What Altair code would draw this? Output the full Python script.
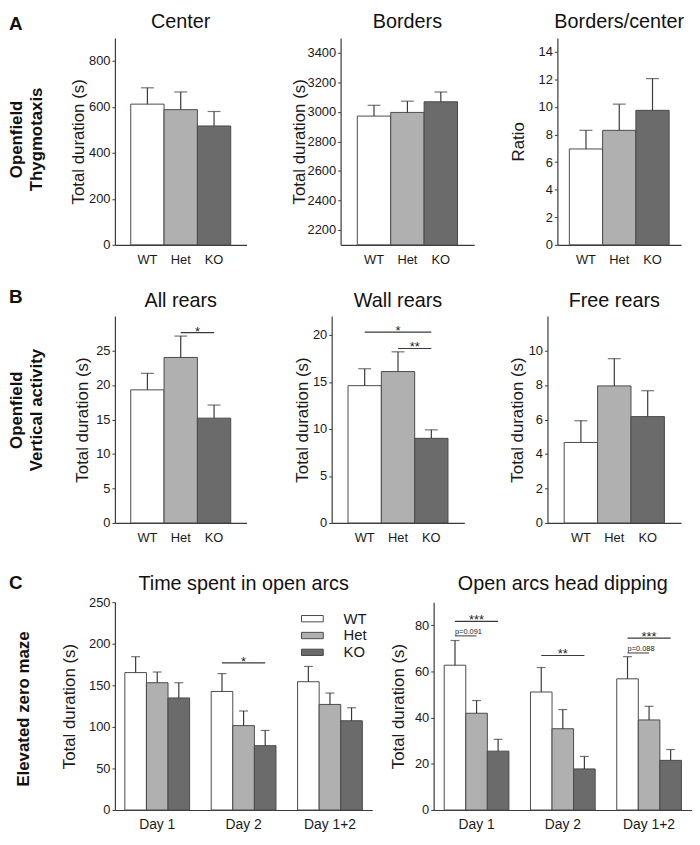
import altair as alt
import pandas as pd

FONT = "Liberation Sans"
INK = "#1a1a1a"
LINE = "#3a3a3a"
BAR_EDGE = "#4a4a4a"

genotypes = ["WT", "Het", "KO"]
fills = ["#ffffff", "#b0b0b0", "#6b6b6b"]

center_mean = [612, 588, 517]
center_sem = [71, 77, 63]
borders_mean = [2971, 2996, 3068]
borders_sem = [73, 76, 66]
ratio_mean = [6.95, 8.3, 9.75]
ratio_sem = [1.35, 1.9, 2.3]
allr_mean = [19.3, 24.0, 15.2]
allr_sem = [2.4, 3.1, 1.9]
wall_mean = [14.6, 16.1, 9.0]
wall_sem = [1.8, 2.1, 0.9]
free_mean = [4.67, 7.95, 6.17]
free_sem = [1.26, 1.58, 1.5]

days = ["Day 1", "Day 2", "Day 1+2"]
open_mean = [[165.3, 153.1, 134.8], [142.6, 101.5, 77.4], [154.3, 127.0, 107.4]]
open_sem = [[19.1, 12.9, 18.3], [21.5, 17.6, 18.3], [18.4, 13.7, 15.6]]
dip_mean = [[62.7, 41.9, 25.5], [51.1, 35.2, 17.8], [56.8, 39.0, 21.5]]
dip_sem = [[10.7, 5.5, 5.1], [10.6, 8.3, 5.4], [9.6, 5.9, 4.7]]

allr_sig = [{"from": "Het", "to": "KO", "y": 27.6, "label": "*", "mid": "KO", "bp": 0.0}]
wall_sig = [{"from": "WT", "to": "KO", "y": 20.3, "label": "*", "mid": "Het", "bp": 0.5},
            {"from": "Het", "to": "KO", "y": 18.55, "label": "**", "mid": "KO", "bp": 0.0}]
open_sig = [{"from": "Day 2|WT", "to": "Day 2|KO", "y": 177, "label": "*", "mid": "Day 2|Het", "bp": 0.5}]
dip_sig = [{"from": "Day 1|WT", "to": "Day 1|KO", "y": 81.7, "label": "***", "mid": "Day 1|Het", "bp": 0.5},
           {"from": "Day 2|WT", "to": "Day 2|KO", "y": 66.9, "label": "**", "mid": "Day 2|Het", "bp": 0.5},
           {"from": "Day 1+2|WT", "to": "Day 1+2|KO", "y": 74.4, "label": "***", "mid": "Day 1+2|Het", "bp": 0.5}]
dip_p = [{"from": "Day 1|WT", "to": "Day 1|Het", "y": 75.4, "label": "p=0.091"},
         {"from": "Day 1+2|WT", "to": "Day 1+2|Het", "y": 68.0, "label": "p=0.088"}]

fill_scale = alt.Scale(domain=genotypes, range=fills)

hA, hB, hC = 209, 209, 210
GAP_AB = 22
GAP_BC = 30


def geno_df(mean, sem):
    return pd.DataFrame({"x": genotypes, "g": genotypes, "m": mean,
                         "top": [a + b for a, b in zip(mean, sem)]})


def grouped_df(mean, sem):
    rows = []
    for i, d in enumerate(days):
        for j, g in enumerate(genotypes):
            rows.append({"x": f"{d}|{g}", "g": g, "m": mean[i][j], "top": mean[i][j] + sem[i][j]})
    return pd.DataFrame(rows)


slots = []
for i, d in enumerate(days):
    for g in genotypes:
        slots.append(f"{d}|{g}")
    if i < len(days) - 1:
        slots.append(f"gap{i}")


def annot(text, x, y, size, weight="bold", angle=0, align="left", baseline="alphabetic"):
    kw = dict(font=FONT, fontSize=size, fontWeight=weight, color="#111111", align=align,
              baseline=baseline, lineBreak="\n", lineHeight=20)
    if angle:
        kw["angle"] = angle
    return alt.Chart(pd.DataFrame({"t": [text]})).mark_text(**kw).encode(
        x=alt.value(x), y=alt.value(y), text="t:N")


def panel(df, xdomain, pad, xaxis, ydom, yvals, ytitle, tx, width, height, title, ty,
          cap, legend=None, sigs=None, pvals=None, extras=()):
    xs = alt.Scale(domain=xdomain, paddingInner=0, paddingOuter=pad)
    ys = alt.Scale(domain=ydom, nice=False, zero=False)
    yaxis = alt.Axis(values=yvals, title=ytitle, format="d", titleX=tx, titleY=height / 2,
                     titleBaseline="middle", titleAlign="center", titleAngle=270)

    def X(f, **kw):
        return alt.X(f, type="nominal", scale=xs, axis=xaxis, **kw)

    def Y(f):
        return alt.Y(f, type="quantitative", scale=ys, axis=yaxis)

    base = alt.Chart(df)
    bars = base.mark_bar(stroke=BAR_EDGE, strokeWidth=1).encode(
        x=X("x"), y=Y("m"), y2=alt.datum(ydom[0]),
        fill=alt.Fill("g:N", scale=fill_scale, legend=legend))
    err = base.mark_rule(color=LINE, strokeWidth=1.2).encode(x=X("x"), y=Y("m"), y2="top:Q")
    caps = base.mark_tick(color=LINE, thickness=1.2, size=cap).encode(x=X("x"), y=Y("top"))
    layers = [bars, err, caps]
    if sigs:
        sdf = pd.DataFrame(sigs)
        layers.append(alt.Chart(sdf).mark_rule(color=LINE, strokeWidth=1.2).encode(
            x=X("from"), x2="to:N", y=Y("y")))
        for bp in sorted(set(sdf["bp"])):
            sub = sdf[sdf["bp"] == bp]
            layers.append(alt.Chart(sub).mark_text(font=FONT, fontSize=13, color=INK,
                                                   baseline="alphabetic", dy=3).encode(
                x=X("mid", bandPosition=float(bp)), y=Y("y"), text="label:N"))
    if pvals:
        pdf = pd.DataFrame(pvals)
        layers.append(alt.Chart(pdf).mark_rule(color=LINE, strokeWidth=1).encode(
            x=X("from"), x2="to:N", y=Y("y")))
        layers.append(alt.Chart(pdf).mark_text(font=FONT, fontSize=7.5, color=INK, align="left",
                                               baseline="alphabetic", dy=-1.5).encode(
            x=X("from"), y=Y("y"), text="label:N"))
    layers.append(annot(title, width / 2, ty, 20, weight="normal", align="center"))
    layers.extend(extras)
    return alt.layer(*layers).properties(width=width, height=height)


def spacer(w, h):
    return alt.Chart(pd.DataFrame({"a": [0]})).mark_point(opacity=0, size=1).encode(
        x=alt.value(0), y=alt.value(0)).properties(width=w, height=h)


gaxis = alt.Axis(title=None, ticks=False, labelFontSize=13, labelPadding=9, labelAngle=0)
daxis = alt.Axis(title=None, ticks=False, labelFontSize=14, labelPadding=8, labelAngle=0,
                 labelExpr="indexof(datum.value, '|Het') > 0 ? split(datum.value, '|')[0] : ''")

TD = "Total duration (s)"

center = panel(geno_df(center_mean, center_sem), genotypes, 0.475, gaxis, [0, 900],
               [0, 200, 400, 600, 800], TD, -37, 133, hA, "Center", -10, 13,
               extras=[annot("A", -107, -8, 19),
                       annot("Openfield\nThygmotaxis", -99, hA / 2 - 2, 17, angle=270,
                             align="center", baseline="middle")])
borders = panel(geno_df(borders_mean, borders_sem), genotypes, 0.5, gaxis, [2100, 3500],
                list(range(2200, 3401, 200)), TD, -41, 135, hA, "Borders", -10, 13)
ratio = panel(geno_df(ratio_mean, ratio_sem), genotypes, 0.36, gaxis, [0, 15],
              list(range(0, 15, 2)), "Ratio", -39, 125, hA, "Borders/center", -10, 13)

allr = panel(geno_df(allr_mean, allr_sem), genotypes, 0.475, gaxis, [0, 30],
             list(range(0, 26, 5)), TD, -33, 133, hB, "All rears", -9, 13,
             sigs=allr_sig,
             extras=[annot("B", -107, -13, 19),
                     annot("Openfield\nVertical activity", -99, 95, 17, angle=270,
                           align="center", baseline="middle")])
wall = panel(geno_df(wall_mean, wall_sem), genotypes, 0.49, gaxis, [0, 22],
             list(range(0, 21, 5)), TD, -29, 134, hB, "Wall rears", -9, 13,
             sigs=wall_sig)
free = panel(geno_df(free_mean, free_sem), genotypes, 0.5, gaxis, [0, 12],
             list(range(0, 11, 2)), TD, -30, 135, hB, "Free rears", -9, 13)

legend = alt.Legend(orient="none", legendX=191, legendY=8.2, title=None,
                    symbolType="M-1.375,-0.4L1.375,-0.4L1.375,0.4L-1.375,0.4Z",
                    symbolSize=256, symbolStrokeColor="#4a4a4a", symbolStrokeWidth=1,
                    symbolOpacity=1, labelFont=FONT, labelFontSize=15, labelColor=INK,
                    labelOffset=23, rowPadding=-0.6, padding=0, offset=0)

opent = panel(grouped_df(open_mean, open_sem), slots, 0.46, daxis, [0, 250],
              list(range(0, 251, 50)), TD, -46, 260, hC,
              "Time spent in open arcs", -12, 9, legend=legend, sigs=open_sig,
              extras=[annot("C", -107, -13, 19),
                      annot("Elevated zero maze", -92, 108, 17, angle=270,
                            align="center", baseline="middle")])
dip = panel(grouped_df(dip_mean, dip_sem), slots, 0.49, daxis, [0, 90],
            list(range(0, 81, 20)), TD, -35, 261, hC,
            "Open arcs head dipping", -12, 9, sigs=dip_sig, pvals=dip_p)


def row(*charts):
    return alt.hconcat(*charts, spacing=0, bounds="flush").resolve_scale(fill="independent")


rowA = row(center, spacer(95, hA), borders, spacer(84, hA), ratio)
rowB = row(allr, spacer(86, hB), wall, spacer(84, hB), free)
rowC = row(opent, spacer(62, hC), dip)

top_rows = alt.vconcat(rowA, rowB, spacing=GAP_AB).resolve_scale(fill="independent")

chart = alt.vconcat(top_rows, rowC, spacing=GAP_BC).resolve_scale(
    fill="independent"
).properties(padding=0, background="white").configure_view(stroke=None).configure_axis(
    domainColor=LINE, domainWidth=1.2, tickColor=LINE, tickWidth=1, grid=False,
    labelFont=FONT, titleFont=FONT, labelColor=INK, titleColor=INK
).configure_axisY(
    tickSize=3, labelFontSize=13, titleFontSize=17, titleFontWeight="normal",
    labelPadding=2
)

chart.save("out.html", embed_options={"renderer": "svg", "actions": False})
